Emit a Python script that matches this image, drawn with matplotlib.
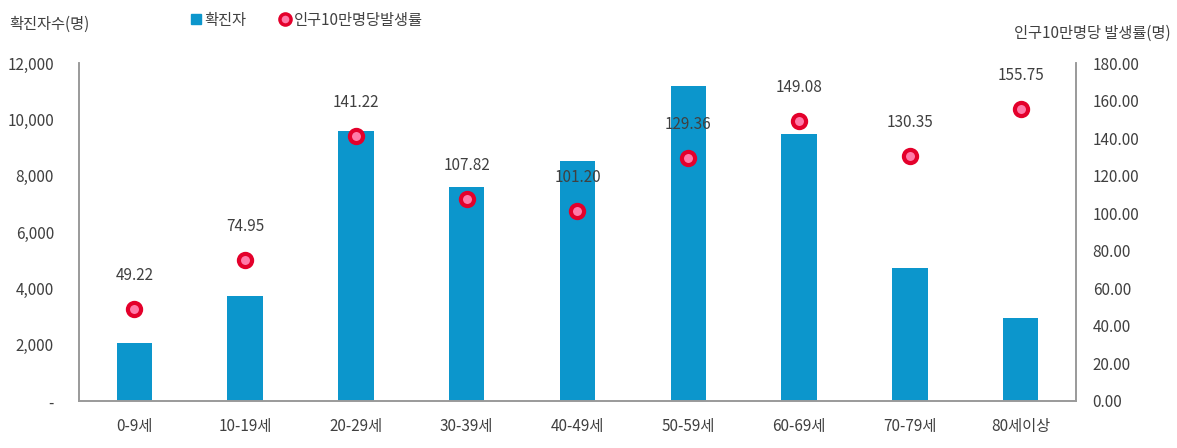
import matplotlib

matplotlib.use("Agg")

import matplotlib.pyplot as plt
from matplotlib.lines import Line2D
import numpy as np

plt.rcParams["font.family"] = ["Noto Sans CJK KR", "DejaVu Sans"]

categories = ["0-9세", "10-19세", "20-29세", "30-39세", "40-49세",
              "50-59세", "60-69세", "70-79세", "80세이상"]
cases = [2060, 3730, 9590, 7600, 8520, 11180, 9480, 4720, 2950]
rates = [49.22, 74.95, 141.22, 107.82, 101.20, 129.36, 149.08, 130.35, 155.75]

bar_color = "#0C96CC"
dot_edge = "#E4002B"
dot_face = "#FF7AA8"
text_color = "#404040"
axis_color = "#9A9A9A"

fig = plt.figure(figsize=(11.77, 4.48), dpi=100)
ax = fig.add_axes([0.0671, 0.105, 0.8471, 0.754])
ax2 = ax.twinx()

x = np.arange(len(categories))
ax.bar(x, cases, width=0.32, color=bar_color, zorder=2)
ax.set_xlim(-0.5, len(categories) - 0.5)
ax.set_ylim(0, 12000)
ax.set_yticks(np.arange(0, 12001, 2000))
ax.set_yticklabels(["-" if v == 0 else f"{v:,}" for v in range(0, 12001, 2000)])
ax.set_xticks(x)
ax.set_xticklabels(categories)

ax2.scatter(x, rates, s=90, color=dot_face, edgecolor=dot_edge, linewidth=3, zorder=5)
ax2.set_ylim(0, 180)
ax2.set_yticks(np.arange(0, 181, 20))
ax2.set_yticklabels([f"{v:.2f}" for v in range(0, 181, 20)])
for xi, r in zip(x, rates):
    ax2.annotate(f"{r:.2f}", (xi, r), xytext=(0, 18), textcoords="offset points",
                 ha="center", va="bottom", fontsize=11, color=text_color)

for a in (ax, ax2):
    a.spines["top"].set_visible(False)
    for side in ("left", "right", "bottom"):
        a.spines[side].set_color(axis_color)
        a.spines[side].set_linewidth(1.2)
    a.tick_params(length=0, labelsize=11, colors=text_color)
ax.tick_params(axis="y", pad=18)
ax.tick_params(axis="x", pad=12)
ax2.tick_params(axis="y", pad=12)

fig.text(0.008, 0.945, "확진자수(명)", fontsize=11, color=text_color, ha="left", va="center")
fig.text(0.995, 0.925, "인구10만명당 발생률(명)", fontsize=11, color=text_color,
         ha="right", va="center")

handles = [
    Line2D([], [], marker="s", linestyle="none", markersize=7, color=bar_color),
    Line2D([], [], marker="o", linestyle="none", markersize=8,
           markerfacecolor=dot_face, markeredgecolor=dot_edge, markeredgewidth=2.5),
]
fig.legend(handles, ["확진자", "인구10만명당발생률"], loc="center left",
           bbox_to_anchor=(0.148, 0.955), ncol=2, frameon=False, fontsize=11,
           handletextpad=0.1, columnspacing=2.0, handlelength=1.0,
           labelcolor=text_color)

fig.savefig("out.png", dpi=100)
plt.close(fig)
